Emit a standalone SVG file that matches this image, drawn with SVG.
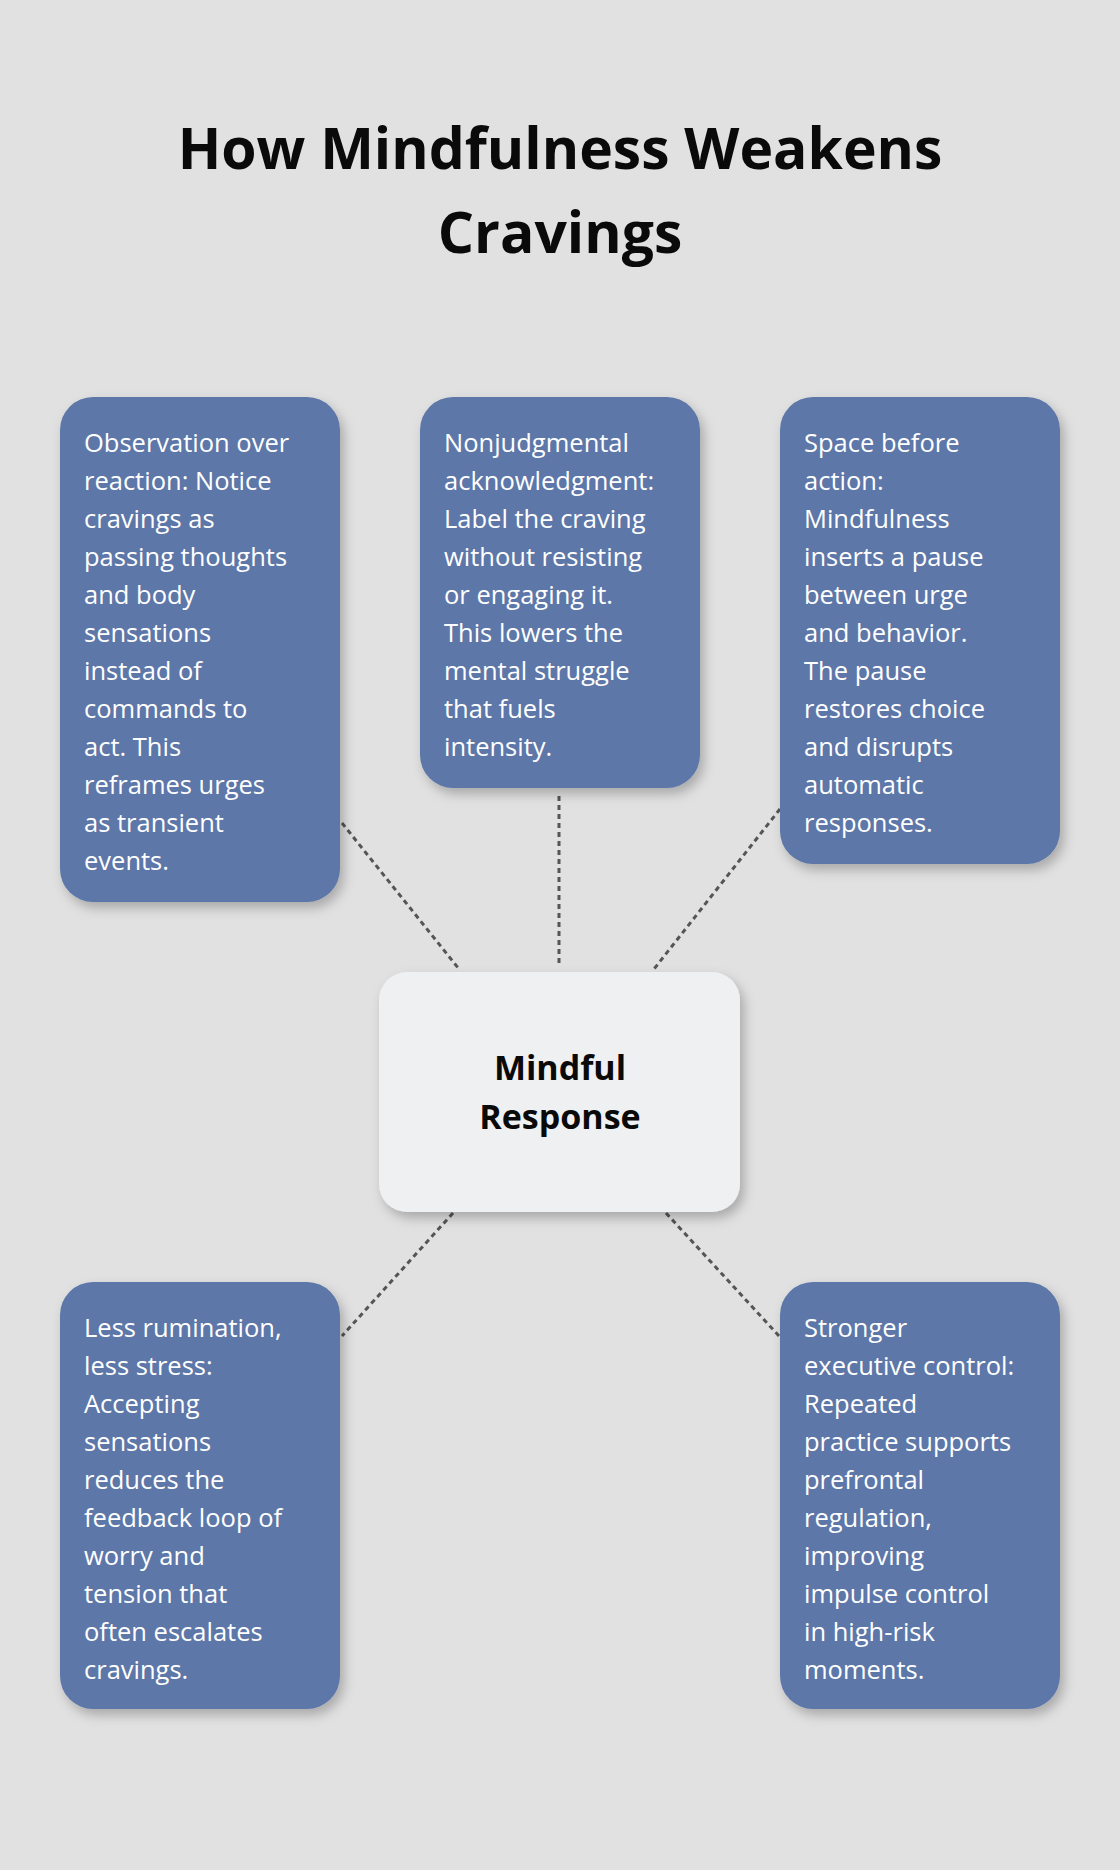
<svg xmlns="http://www.w3.org/2000/svg" width="1120" height="1870" viewBox="0 0 1120 1870">
<style>
.box{fill:#5d77a8;filter:url(#sh)}
.t{font-family:"Open Sans","Liberation Sans",sans-serif;font-size:25.5px;fill:#fff}
.title{font-family:"Open Sans","Liberation Sans",sans-serif;font-size:57px;font-weight:bold;fill:#0a0a0a;text-anchor:middle}
.c{fill:none;stroke:#555;stroke-width:3;stroke-dasharray:5 4}
</style>
<defs><filter id="sh" x="-20%" y="-20%" width="140%" height="140%"><feDropShadow dx="4" dy="6" stdDeviation="6" flood-color="#000" flood-opacity="0.25"/></filter></defs>
<rect width="1120" height="1870" fill="#e0e1e0"/>
<text class="title" x="560" y="169">How Mindfulness Weakens</text>
<text class="title" x="560" y="253">Cravings</text>
<g id="connectors">
<line class="c" x1="342" y1="823" x2="459" y2="969"/>
<line class="c" x1="559" y1="796" x2="559" y2="964"/>
<line class="c" x1="780" y1="809" x2="654" y2="969"/>
<line class="c" x1="453" y1="1213" x2="342" y2="1336"/>
<line class="c" x1="666" y1="1213" x2="779" y2="1336"/>
</g>
<g id="n1"><rect class="box" x="60" y="397" width="280" height="505" rx="33"/>
<text class="t" x="84"><tspan y="452">Observation over</tspan><tspan x="84" y="490">reaction: Notice</tspan><tspan x="84" y="528">cravings as</tspan><tspan x="84" y="566">passing thoughts</tspan><tspan x="84" y="604">and body</tspan><tspan x="84" y="642">sensations</tspan><tspan x="84" y="680">instead of</tspan><tspan x="84" y="718">commands to</tspan><tspan x="84" y="756">act. This</tspan><tspan x="84" y="794">reframes urges</tspan><tspan x="84" y="832">as transient</tspan><tspan x="84" y="870">events.</tspan></text></g>
<g id="n2"><rect class="box" x="420" y="397" width="280" height="391" rx="33"/>
<text class="t" x="444"><tspan y="452">Nonjudgmental</tspan><tspan x="444" y="490">acknowledgment:</tspan><tspan x="444" y="528">Label the craving</tspan><tspan x="444" y="566">without resisting</tspan><tspan x="444" y="604">or engaging it.</tspan><tspan x="444" y="642">This lowers the</tspan><tspan x="444" y="680">mental struggle</tspan><tspan x="444" y="718">that fuels</tspan><tspan x="444" y="756">intensity.</tspan></text></g>
<g id="n3"><rect class="box" x="780" y="397" width="280" height="467" rx="33"/>
<text class="t" x="804"><tspan y="452">Space before</tspan><tspan x="804" y="490">action:</tspan><tspan x="804" y="528">Mindfulness</tspan><tspan x="804" y="566">inserts a pause</tspan><tspan x="804" y="604">between urge</tspan><tspan x="804" y="642">and behavior.</tspan><tspan x="804" y="680">The pause</tspan><tspan x="804" y="718">restores choice</tspan><tspan x="804" y="756">and disrupts</tspan><tspan x="804" y="794">automatic</tspan><tspan x="804" y="832">responses.</tspan></text></g>
<g id="center"><rect x="379" y="972" width="361" height="240" rx="28" fill="#eff0f2" filter="url(#sh)"/>
<text font-family="'Open Sans','Liberation Sans',sans-serif" font-size="34" font-weight="bold" fill="#0a0a0a" text-anchor="middle"><tspan x="560" y="1080">Mindful</tspan><tspan x="560" y="1129">Response</tspan></text></g>
<g id="n4"><rect class="box" x="60" y="1282" width="280" height="427" rx="33"/>
<text class="t" x="84"><tspan y="1337">Less rumination,</tspan><tspan x="84" y="1375">less stress:</tspan><tspan x="84" y="1413">Accepting</tspan><tspan x="84" y="1451">sensations</tspan><tspan x="84" y="1489">reduces the</tspan><tspan x="84" y="1527">feedback loop of</tspan><tspan x="84" y="1565">worry and</tspan><tspan x="84" y="1603">tension that</tspan><tspan x="84" y="1641">often escalates</tspan><tspan x="84" y="1679">cravings.</tspan></text></g>
<g id="n5"><rect class="box" x="780" y="1282" width="280" height="427" rx="33"/>
<text class="t" x="804"><tspan y="1337">Stronger</tspan><tspan x="804" y="1375">executive control:</tspan><tspan x="804" y="1413">Repeated</tspan><tspan x="804" y="1451">practice supports</tspan><tspan x="804" y="1489">prefrontal</tspan><tspan x="804" y="1527">regulation,</tspan><tspan x="804" y="1565">improving</tspan><tspan x="804" y="1603">impulse control</tspan><tspan x="804" y="1641">in high-risk</tspan><tspan x="804" y="1679">moments.</tspan></text></g>
</svg>
